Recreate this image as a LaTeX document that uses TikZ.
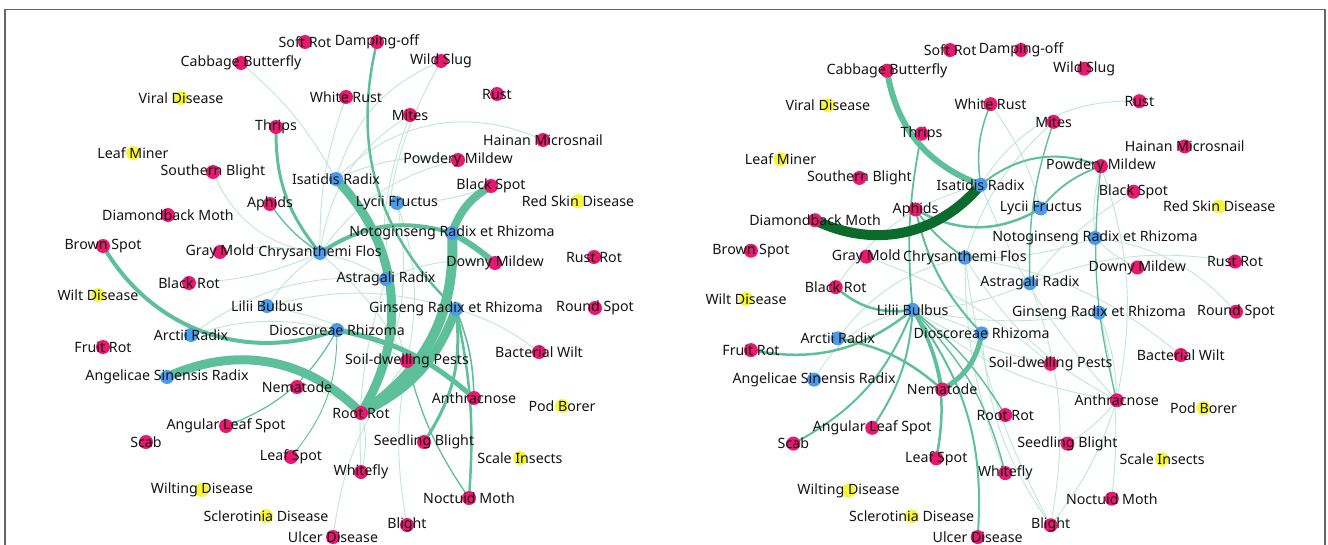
\documentclass[tikz,border=0pt]{standalone}
\usepackage{fontspec}
\setmainfont{Noto Sans}
\definecolor{pk}{HTML}{E8186E}
\definecolor{bl}{HTML}{4C9BEA}
\definecolor{yl}{HTML}{F7F73A}
\definecolor{edgeC}{HTML}{5DC09A}
\definecolor{edgeL}{HTML}{BFE7D7}
\definecolor{darkG}{HTML}{0B6B2C}
\definecolor{frameC}{HTML}{62666F}
\tikzset{
  dot/.style={circle,inner sep=0pt,minimum size=14pt,draw=none},
  lab/.style={inner sep=0pt,text=black!92,font=\fontsize{14.2}{16}\selectfont},
  ed/.style={draw=edgeC,line cap=round},
  th/.style={draw=edgeL,line width=0.9pt},
  md/.style={draw=edgeC,line width=1.6pt},
  dk/.style={draw=darkG,line cap=round},
}
\def\nodedata{SoftRot/305/42/pk/Soft Rot,Damping/377/42/pk/Damping-off,Cabbage/241/63/pk/Cabbage Butterfly,WildSlug/441/61/pk/Wild Slug,Viral/181/98/yl/Viral Disease,WhiteRust/346/97/pk/White Rust,Rust/497/94/pk/Rust,Mites/410/115/pk/Mites,Thrips/276/127/pk/Thrips,Hainan/543/140/pk/Hainan Microsnail,LeafMiner/133/153/yl/Leaf Miner,Powdery/458/160/pk/Powdery Mildew,Southern/213/172/pk/Southern Blight,Isatidis/336/179/bl/Isatidis Radix,BlackSpot/491/186/pk/Black Spot,Aphids/270/204/pk/Aphids,Lycii/397/203/bl/Lycii Fructus,RedSkin/578/201/yl/Red Skin Disease,Diamond/168/215/pk/Diamondback Moth,Noto/452/233/bl/Notoginseng Radix et Rhizoma,BrownSpot/103/246/pk/Brown Spot,GrayMold/220/252/pk/Gray Mold,Chrys/320/253/bl/Chrysanthemi Flos,Downy/495/263/pk/Downy Mildew,RustRot/594/257/pk/Rust Rot,Astra/386/279/bl/Astragali Radix,BlackRot/189/283/pk/Black Rot,WiltD/98/295/yl/Wilt Disease,Lilii/267/306/bl/Lilii Bulbus,Ginseng/456/309/bl/Ginseng Radix et Rhizoma,RoundSpot/595/308/pk/Round Spot,Arctii/191/335/bl/Arctii Radix,Diosc/337/330/bl/Dioscoreae Rhizoma,FruitRot/103/347/pk/Fruit Rot,Bact/539/352/pk/Bacterial Wilt,Soil/407/361/pk/Soil-dwelling Pests,Angel/167/377/bl/Angelicae Sinensis Radix,Nema/297/387/pk/Nematode,Anthra/474/398/pk/Anthracnose,PodBorer/562/406/yl/Pod Borer,RootRot/361/413/pk/Root Rot,Angular/226/426/pk/Angular Leaf Spot,Scab/146/442/pk/Scab,Seedling/424/442/pk/Seedling Blight,LeafSpot/291/457/pk/Leaf Spot,Scale/520/458/yl/Scale Insects,Whitefly/361/472/pk/Whitefly,Wilting/202/490/yl/Wilting Disease,Noctuid/469/498/pk/Noctuid Moth,Sclero/266/516/yl/Sclerotinia Disease,Blight/407/525/pk/Blight,Ulcer/333/537/pk/Ulcer Disease}
\newcommand\placecoords[1]{\foreach \n/\x/\y/\c/\l in \nodedata {\coordinate (#1\n) at (\x,\y);}}
\newcommand\placedots[1]{\foreach \n/\x/\y/\c/\l in \nodedata {\node[dot,fill=\c] (#1\n-d) at (#1\n) {};}}
\newcommand\placelabels[1]{\foreach \n/\x/\y/\c/\l in \nodedata {\node[lab] (#1\n-t) at (#1\n) {\l};}}
\begin{document}
\begin{tikzpicture}[x=1pt,y=-1pt]
\useasboundingbox (0,0) rectangle (1328,544);
\fill[white] (0,0) rectangle (1328,544);
\draw[frameC,line width=1.4pt] (5,560) -- (5,9.5) -- (1325,9.5) -- (1325,560);
% ---------------- left panel ----------------
\begin{scope}
\placecoords{L}
% thin light edges
\draw[th] (LCabbage) to[bend left=10] (LIsatidis);
\draw[th] (LSouthern) to[bend right=30] (LChrys);
\draw[th] (LWhiteRust) to[bend right=10] (LChrys);
\draw[th] (LWildSlug) to[bend right=25] (LIsatidis);
\draw[th] (LWildSlug) to[bend right=15] (LAstra);
\draw[th] (LHainan) to[bend right=35] (LIsatidis);
\draw[th] (LPowdery) to[bend right=15] (LIsatidis);
\draw[th] (LPowdery) to[bend right=20] (LChrys);
\draw[th] (LMites) to[bend right=20] (LSoil);
\draw[th] (LBlackSpot) to[bend left=10] (LLycii);
\draw[th] (LLilii) to[bend left=15] (LGinseng);
\draw[th] (LArctii) to[bend left=20] (LAstra);
\draw[th] (LBlackRot) to[bend right=10] (LChrys);
\draw[th] (LLilii) to[bend left=10] (LSoil);
\draw[th] (LChrys) to[bend left=10] (LSoil);
\draw[th] (LChrys) to[bend left=10] (LAstra);
\draw[th] (LChrys) to[bend right=10] (LLilii);
\draw[th] (LUlcer) to[bend left=15] (LSoil);
\draw[th] (LWhitefly) to[bend left=10] (LAstra);
\draw[th] (LLycii) to[bend left=15] (LSoil);
\draw[th] (LDowny) to[bend right=15] (LAstra);
\draw[th] (LGrayMold) to[bend left=10] (LChrys);
\draw[th] (LBact) to[bend right=10] (LGinseng);
\draw[th] (LBlight) to[bend left=10] (LSoil);
\draw[th] (LNema) to[bend left=15] (LRootRot);
\draw[th] (LArctii) to[bend left=15] (LDiosc);
\draw[th] (LLycii) to[bend left=20] (LRootRot);
\draw[th] (LMites) to[bend right=25] (LChrys);
\draw[th] (LWhitefly) to[bend right=15] (LRootRot);
% medium edges
\draw[md,line width=1.3pt] (LAphids) to[bend right=10] (LChrys);
\draw[md,line width=1.2pt] (LAngular) to[bend right=20] (LDiosc);
\draw[md,line width=0.9pt] (LLeafSpot) to[bend right=20] (LDiosc);
\draw[md,line width=1.3pt] (LNoctuid) to[bend left=10] (LSoil);
\draw[md,line width=1.6pt] (LAnthra) to[bend right=10] (LGinseng);
% thick edges
\draw[ed,line width=3pt] (LThrips) to[bend right=20] (LChrys);
\draw[ed,line width=2.5pt] (LDamping) to[bend right=30] (LGinseng);
\draw[ed,line width=3pt] (LSeedling) to[bend right=20] (LGinseng);
\draw[ed,line width=2.5pt] (LNoctuid) to[bend right=8] (LGinseng);
\draw[ed,line width=4pt] (LBrownSpot) to[bend right=40] (LDiosc);
\draw[ed,line width=5pt] (LDiosc) to[bend left=15] (LAnthra);
\draw[ed,line width=4pt] (LChrys) to[bend left=25] (LNoto);
\draw[ed,line width=6pt] (LNoto) to[bend left=5] (LDowny);
\draw[ed,line width=8pt] (LNoto) to[bend left=20] (LBlackSpot);
\draw[ed,line width=9pt] (LIsatidis) to[bend left=38] (LRootRot);
\draw[ed,line width=10pt] (LNoto) to[bend left=30] (LRootRot);
\draw[ed,line width=9pt] (LGinseng) to[bend left=22] (LRootRot);
\draw[ed,line width=9pt] (LAngel) to[bend left=35] (LRootRot);
\placedots{L}
\placelabels{L}
\end{scope}
% ---------------- right panel ----------------
\begin{scope}[shift={(649.4,8.7)},xscale=0.986,yscale=0.984]
\placecoords{R}
% thin light edges
\draw[th] (RRust) to[bend right=30] (RIsatidis);
\draw[th] (RMites) to[bend right=15] (RChrys);
\draw[th] (RPowdery) to[bend right=10] (RNoto);
\draw[th] (RBlackSpot) to[bend right=10] (RAstra);
\draw[th] (RDowny) to[bend left=10] (RNoto);
\draw[th] (RRustRot) to[bend right=15] (RAstra);
\draw[th] (RRoundSpot) to[bend right=20] (RNoto);
\draw[th] (RBact) to[bend right=15] (RChrys);
\draw[th] (RAnthra) to[bend left=15] (RLilii);
\draw[th] (RAnthra) to[bend left=15] (RChrys);
\draw[th] (RAnthra) to[bend left=10] (RIsatidis);
\draw[th] (RAnthra) to[bend right=10] (RGinseng);
\draw[th] (RAnthra) to[bend right=15] (RPowdery);
\draw[th] (RBlight) to[bend right=15] (RAstra);
\draw[th] (RBlight) to[bend left=10] (RChrys);
\draw[th] (RBlight) to[bend right=10] (RAnthra);
\draw[th] (RNoctuid) to[bend right=10] (RGinseng);
\draw[th] (RSeedling) to[bend right=10] (RAnthra);
\draw[th] (RSoil) to[bend left=10] (RLilii);
\draw[th] (RWhitefly) to[bend left=10] (RChrys);
\draw[th] (RGinseng) to[bend left=10] (RLilii);
\draw[th] (RAstra) to[bend left=10] (RLilii);
\draw[th] (RNoto) to[bend left=10] (RChrys);
\draw[th] (RBlackRot) to[bend left=20] (RIsatidis);
\draw[th] (RArctii) to[bend left=20] (RChrys);
\draw[th] (RAngel) to[bend left=25] (RLilii);
\draw[th] (RLilii) to[bend left=5] (RDiosc);
\draw[th] (RGrayMold) to[bend left=10] (RSoil);
\draw[th] (RWhiteRust) to[bend left=10] (RLycii);
\draw[th] (RBlight) to[bend left=15] (RDiosc);
% medium edges
\draw[md,line width=1.5pt] (RWhiteRust) to[bend right=15] (RIsatidis);
\draw[md,line width=1.4pt] (RMites) to[bend right=10] (RAstra);
\draw[md,line width=1.3pt] (RPowdery) to[bend right=10] (RAnthra);
\draw[md,line width=1.4pt] (RLilii) to[bend left=10] (RRootRot);
\draw[md,line width=1.4pt] (RLilii) to[bend left=15] (RWhitefly);
\draw[md,line width=1.8pt] (RAphids) to[bend right=10] (RChrys);
\draw[md,line width=1.8pt] (RThrips) to[bend right=8] (RLilii);
\draw[md,line width=1.8pt] (RLycii) to[bend left=15] (RPowdery);
\draw[md,line width=2pt] (RIsatidis) to[bend left=30] (RPowdery);
\draw[md,line width=2pt] (RAphids) to[bend right=15] (RDiosc);
\draw[md,line width=2pt] (RLilii) to[bend left=20] (RUlcer);
% thicker edges
\draw[ed,line width=2.5pt] (RAphids) to[bend right=30] (RLycii);
\draw[ed,line width=3pt] (RLilii) to[bend left=10] (RNema);
\draw[ed,line width=2.5pt] (RLilii) to[bend left=20] (RLeafSpot);
\draw[ed,line width=2pt] (RLilii) to[bend left=15] (RAngular);
\draw[ed,line width=2pt] (RLilii) to[bend left=20] (RScab);
\draw[ed,line width=2.5pt] (RLilii) to[bend left=25] (RFruitRot);
\draw[ed,line width=2.5pt] (RBlackRot) to[bend right=25] (RLilii);
\draw[ed,line width=2.5pt] (RArctii) to[bend left=15] (RNema);
\draw[ed,line width=5pt] (RDiosc) to[bend left=25] (RNema);
\draw[ed,line width=6pt] (RCabbage) to[bend right=30] (RIsatidis);
\draw[dk,line width=10pt] (RDiamond) to[bend right=38] (RIsatidis);
\placedots{R}
\placelabels{R}
\end{scope}
\end{tikzpicture}
\end{document}
